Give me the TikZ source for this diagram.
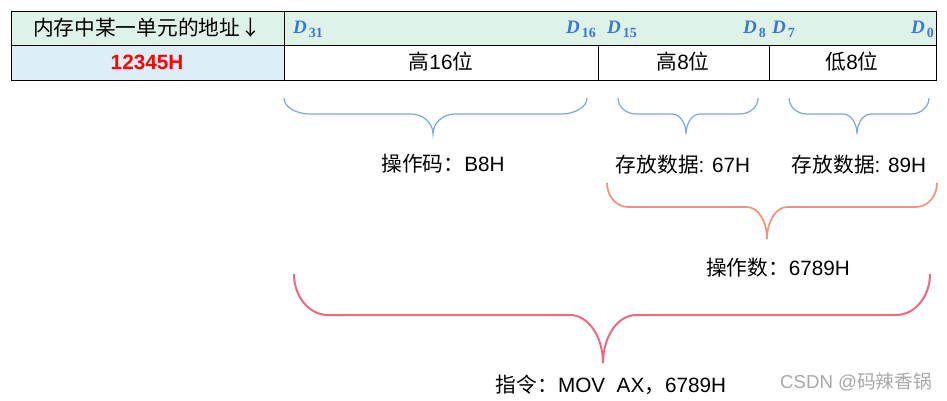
\documentclass[tikz,border=0pt]{standalone}
\usepackage{fontspec}
\setmainfont{Liberation Sans}
\newfontfamily\cjk{Noto Sans CJK SC}
\newfontfamily\dfont{Liberation Serif}
\definecolor{hdrgreen}{HTML}{DEF2E8}
\definecolor{cellblue}{HTML}{DDEEF8}
\definecolor{dblue}{HTML}{3A78D6}
\definecolor{braceblue}{HTML}{7AA6E6}
\definecolor{bracesalmon}{HTML}{F2917C}
\definecolor{bracepink}{HTML}{EC6A80}
\definecolor{wmgray}{HTML}{A8A8A8}
\newcommand\mybrace[9]{%
  \draw[#1] (#2,#5) .. controls (#2,{#5+0.552*(#6-#5)}) and ({#2+0.448*#8},#6) .. ({#2+#8},#6)
    -- ({#4-#9},#6) .. controls ({#4-0.448*#9},#6) and (#4,{#6+0.448*(#7-#6)}) .. (#4,#7)
    .. controls (#4,{#6+0.448*(#7-#6)}) and ({#4+0.448*#9},#6) .. ({#4+#9},#6)
    -- ({#3-#8},#6) .. controls ({#3-0.448*#8},#6) and (#3,{#5+0.552*(#6-#5)}) .. (#3,#5);}
\newcommand\dsub[1]{{\dfont\bfseries\itshape D}\kern2pt\raisebox{-4pt}{\dfont\bfseries\fontsize{14}{16}\selectfont #1}}
\begin{document}
\begin{tikzpicture}[x=1pt,y=-1pt,
  cell/.style={draw=black, line width=0.9pt, inner sep=0pt, anchor=center},
  txt/.style={inner sep=0pt, font=\fontsize{20.7}{24}\selectfont, anchor=center},
  dlab/.style={inner sep=0pt, text=dblue, font=\fontsize{19}{21}\selectfont, anchor=base},
  bb/.style={draw=braceblue, line width=1.2pt},
  bs/.style={draw=bracesalmon, line width=1.7pt},
  bp/.style={draw=bracepink, line width=2pt}]
\useasboundingbox (0,0) rectangle (947,400);
% table
\node[cell, fill=hdrgreen, minimum width=273pt, minimum height=34pt] (h1) at (147.5,28) {};
\node[cell, fill=hdrgreen, minimum width=652pt, minimum height=34pt] (h2) at (610,28) {};
\node[cell, fill=cellblue, minimum width=273pt, minimum height=35pt] (c1) at (147.5,62.5) {};
\node[cell, minimum width=314pt, minimum height=35pt] (c2) at (441,62.5) {};
\node[cell, minimum width=171pt, minimum height=35pt] (c3) at (683.5,62.5) {};
\node[cell, minimum width=167pt, minimum height=35pt] (c4) at (852.5,62.5) {};
\node[txt] (t1) at (147,28) {\cjk 内存中某一单元的地址↓};
\node[txt, text=red, font=\fontsize{20.7}{24}\selectfont\bfseries] (t2) at (147,62) {12345H};
\node[txt] (t3) at (441,62) {{\cjk 高}16{\cjk 位}};
\node[txt] (t4) at (683,62) {{\cjk 高}8{\cjk 位}};
\node[txt] (t5) at (852,62) {{\cjk 低}8{\cjk 位}};
% D labels
\node[dlab, anchor=base west] (d31) at (293,33) {\dsub{31}};
\node[dlab, anchor=base east] (d16) at (596,33) {\dsub{16}};
\node[dlab, anchor=base west] (d15) at (607,33) {\dsub{15}};
\node[dlab, anchor=base east] (d8) at (766,33) {\dsub{8}};
\node[dlab, anchor=base west] (d7) at (772,33) {\dsub{7}};
\node[dlab, anchor=base east] (d0) at (934,33) {\dsub{0}};
% braces
\mybrace{bb}{284}{587}{433}{98}{114}{134}{26}{22}
\mybrace{bb}{618}{758}{686}{98}{114}{134}{18}{14}
\mybrace{bb}{789}{929}{857}{98}{114}{134}{18}{14}
\mybrace{bs}{607}{937}{767}{183}{207}{239}{21}{20}
\mybrace{bp}{294}{930}{603}{274}{315}{363}{34}{33}
% labels
\node[txt] (l1) at (443,164) {{\cjk 操作码：}B8H};
\node[txt] (l2) at (683,165) {{\cjk 存放数据}: 67H};
\node[txt] (l3) at (859,165) {{\cjk 存放数据}: 89H};
\node[txt] (l4) at (778,268) {{\cjk 操作数：}6789H};
\node[txt] (l5) at (611,385) {{\cjk 指令：}MOV\ \ AX{\cjk ，}6789H};
\node[txt, text=wmgray, font=\fontsize{18.7}{22}\selectfont] (wm) at (856,382) {CSDN @{\cjk 码辣香锅}};
\end{tikzpicture}
\end{document}
